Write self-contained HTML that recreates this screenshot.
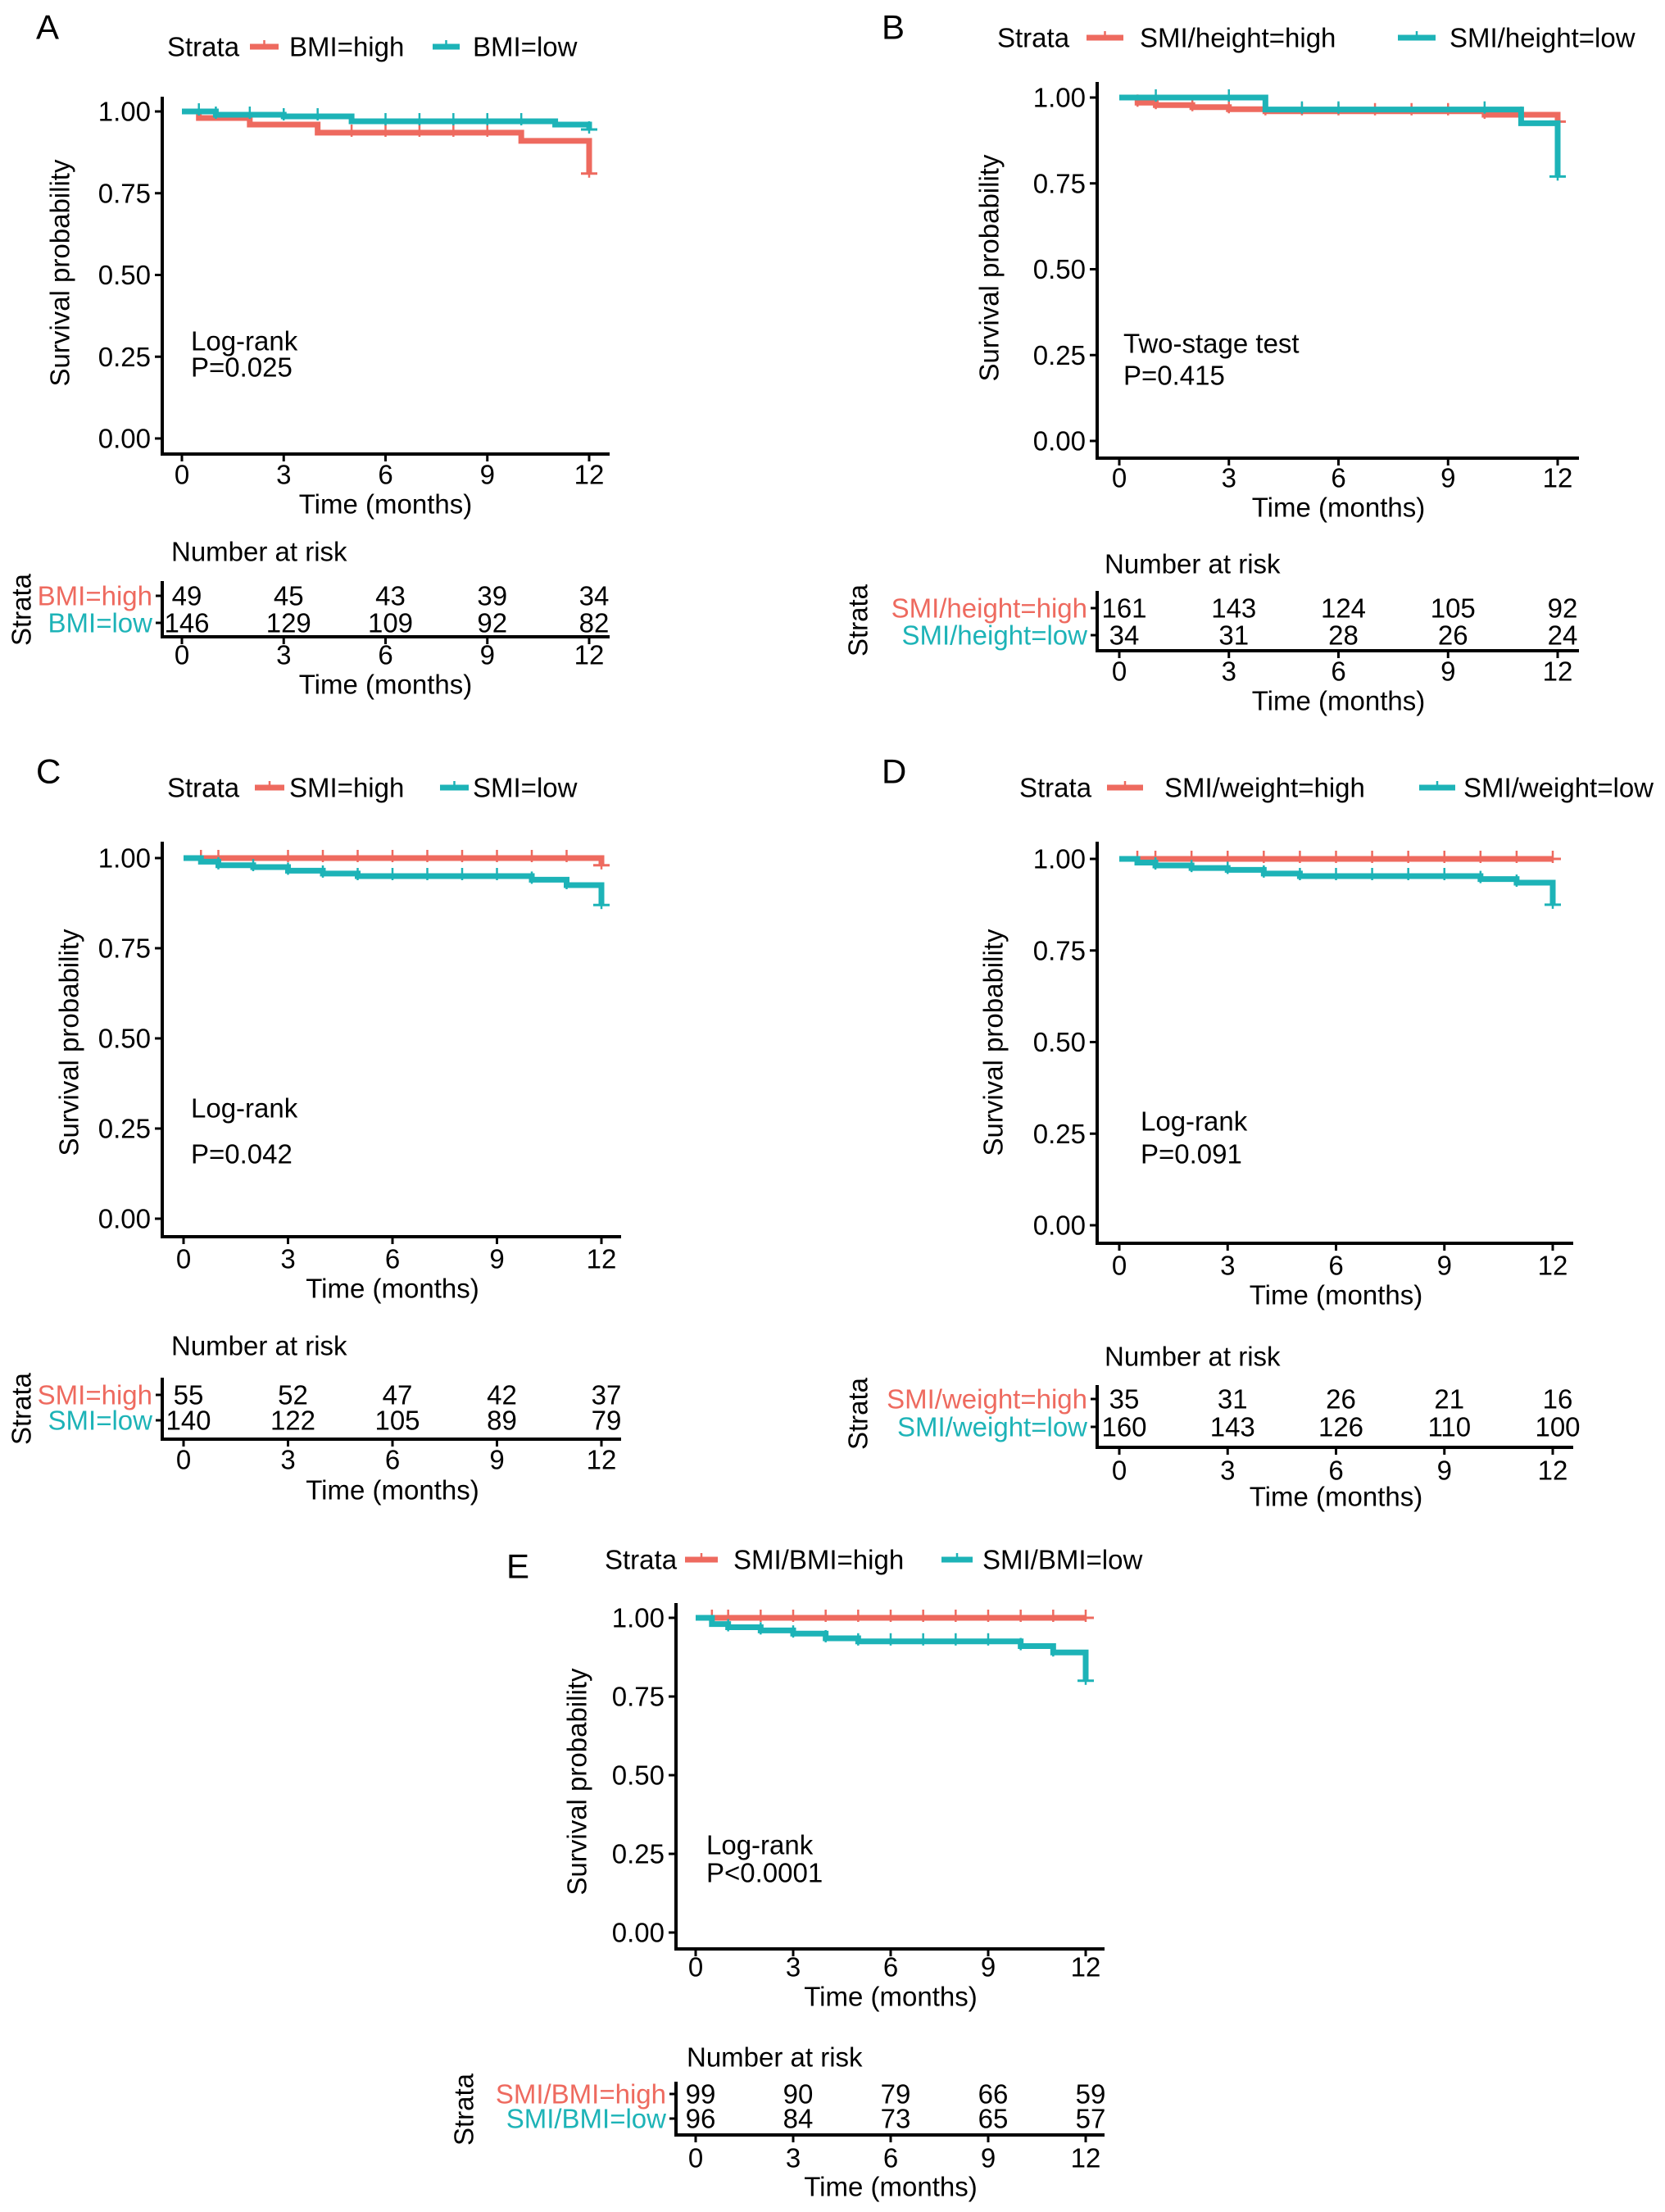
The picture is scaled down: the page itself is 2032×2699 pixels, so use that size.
<!DOCTYPE html>
<html><head><meta charset="utf-8">
<style>
html,body{margin:0;padding:0;background:#fff;}
svg{display:block;font-family:"Liberation Sans",Arial,sans-serif;}
</style></head>
<body>
<svg id="fig" width="2032" height="2699" viewBox="0 0 2032 2699" xmlns="http://www.w3.org/2000/svg"></svg>
<script>
// ---------- DATA ----------
var timeTicks = [0, 3, 6, 9, 12];
var survTicks = [0, 0.25, 0.5, 0.75, 1.0];
var survTickLabels = ["0.00", "0.25", "0.50", "0.75", "1.00"];

// Panel A
var A_highT = [0, 0.5, 2, 4, 10, 12];
var A_highS = [1.0, 0.98, 0.96, 0.935, 0.91, 0.81];
var A_lowT = [0, 1, 3, 5, 11, 12];
var A_lowS = [1.0, 0.99, 0.985, 0.97, 0.96, 0.945];
var A_highCens = [5, 6, 7, 8, 9, 12];
var A_lowCens = [0.5, 1, 2, 3, 4, 6, 7, 8, 9, 10, 12];
var A_riskHigh = [49, 45, 43, 39, 34];
var A_riskLow = [146, 129, 109, 92, 82];

// Panel B
var B_highT = [0, 0.5, 1, 2, 3, 4, 10, 12];
var B_highS = [1.0, 0.985, 0.978, 0.972, 0.966, 0.96, 0.95, 0.93];
var B_lowT = [0, 4, 11, 12];
var B_lowS = [1.0, 0.965, 0.925, 0.77];
var B_highCens = [0.5, 1, 2, 3, 4, 5, 6, 7, 8, 9, 10, 11, 12];
var B_lowCens = [1, 3, 5, 6, 10, 12];
var B_riskHigh = [161, 143, 124, 105, 92];
var B_riskLow = [34, 31, 28, 26, 24];

// Panel C
var C_highT = [0, 12];
var C_highS = [1.0, 0.98];
var C_lowT = [0, 0.5, 1, 2, 3, 4, 5, 10, 11, 12];
var C_lowS = [1.0, 0.99, 0.98, 0.975, 0.965, 0.957, 0.95, 0.94, 0.925, 0.87];
var C_highCens = [0.5, 1, 3, 4, 5, 6, 7, 8, 9, 10, 11, 12];
var C_lowCens = [1, 2, 3, 4, 5, 6, 7, 8, 9, 10, 11, 12];
var C_riskHigh = [55, 52, 47, 42, 37];
var C_riskLow = [140, 122, 105, 89, 79];

// Panel D
var D_highT = [0, 12];
var D_highS = [1.0, 1.0];
var D_lowT = [0, 0.5, 1, 2, 3, 4, 5, 10, 11, 12];
var D_lowS = [1.0, 0.99, 0.982, 0.975, 0.97, 0.96, 0.953, 0.945, 0.935, 0.875];
var D_highCens = [0.5, 1, 2, 3, 4, 5, 6, 7, 8, 9, 10, 11, 12];
var D_lowCens = [1, 2, 3, 4, 5, 6, 7, 8, 9, 10, 11, 12];
var D_riskHigh = [35, 31, 26, 21, 16];
var D_riskLow = [160, 143, 126, 110, 100];

// Panel E
var E_highT = [0, 12];
var E_highS = [1.0, 1.0];
var E_lowT = [0, 0.5, 1, 2, 3, 4, 5, 10, 11, 12];
var E_lowS = [1.0, 0.98, 0.97, 0.96, 0.95, 0.935, 0.925, 0.91, 0.89, 0.8];
var E_highCens = [0.5, 1, 2, 3, 4, 5, 6, 7, 8, 9, 10, 11, 12];
var E_lowCens = [1, 2, 3, 4, 5, 6, 7, 8, 9, 10, 11, 12];
var E_riskHigh = [99, 90, 79, 66, 59];
var E_riskLow = [96, 84, 73, 65, 57];

var RED = "#EE6A5F", TEAL = "#1DB3B7";
var NS = "http://www.w3.org/2000/svg";
var svg = document.getElementById("fig");

function mk(tag, attrs, parent, text) {
  var e = document.createElementNS(NS, tag);
  for (var k in attrs) e.setAttribute(k, attrs[k]);
  if (text !== undefined) e.textContent = text;
  (parent || svg).appendChild(e);
  return e;
}
function txt(parent, x, y, s, opts) {
  opts = opts || {};
  var t = mk("text", {x: x, y: y, "font-size": opts.size || 33, fill: opts.fill || "#000",
    "text-anchor": opts.anchor || "start", "dominant-baseline": "central"}, parent, s);
  if (opts.rot) t.setAttribute("transform", "rotate(-90 " + x + " " + y + ")");
  return t;
}

function panel(L, d) {
  var g = mk("g", {});
  
  
  var sx = function (t) { return L.x0 + (L.x12 - L.x0) * t / 12; };
  var sy = function (s) { return L.y0 + (L.y1 - L.y0) * s; };

  var lt = txt(g, L.letterX, L.letterY, L.letter, {size: 42});
  
  

  // legend
  var lg = mk("g", {}, g);
  
  
  txt(lg, L.legStrata, L.legY, "Strata");
  var keys = [[L.k1a, L.k1b, L.t1x, d.names[0], RED], [L.k2a, L.k2b, L.t2x, d.names[1], TEAL]];
  keys.forEach(function (k, i) {
    var e = mk("g", {}, lg);
    
    
    mk("line", {x1: k[0], x2: k[1], y1: L.legY, y2: L.legY, stroke: k[4], "stroke-width": 7}, e);
    var mx = (k[0] + k[1]) / 2;
    mk("line", {x1: mx, x2: mx, y1: L.legY - 8, y2: L.legY + 3, stroke: k[4], "stroke-width": 2.5}, e);
    txt(e, k[2], L.legY, k[3]);
  });

  // axes
  var ax = mk("g", {}, g);
  
  
  mk("line", {x1: L.ax, x2: L.ax, y1: L.top, y2: L.bot + 2, stroke: "#000", "stroke-width": 4}, ax);
  mk("line", {x1: L.ax - 2, x2: L.right, y1: L.bot, y2: L.bot, stroke: "#000", "stroke-width": 4}, ax);
  survTicks.forEach(function (v, i) {
    var y = sy(v);
    mk("line", {x1: L.ax - 9, x2: L.ax, y1: y, y2: y, stroke: "#000", "stroke-width": 3}, ax);
    txt(ax, L.ax - 14, y, survTickLabels[i], {anchor: "end"});
  });
  timeTicks.forEach(function (t) {
    var x = sx(t);
    mk("line", {x1: x, x2: x, y1: L.bot, y2: L.bot + 9, stroke: "#000", "stroke-width": 3}, ax);
    txt(ax, x, L.xtickY, String(t), {anchor: "middle"});
  });
  var xt = txt(ax, (L.x0 + L.x12) / 2, L.xtitleY, "Time (months)", {anchor: "middle"});
  
  
  var yt = txt(ax, L.ytitleX, L.ytitleY, "Survival probability", {anchor: "middle", rot: true});
  
  

  // curves
  var series = [[d.highT, d.highS, d.highCens, RED, 'curve-high'], [d.lowT, d.lowS, d.lowCens, TEAL, 'curve-low']];
  series.forEach(function (s) {
    var T = s[0], S = s[1];
    var p = "M" + sx(T[0]) + "," + sy(S[0]);
    for (var i = 1; i < T.length; i++) {
      p += " H" + sx(T[i]) + " V" + sy(S[i]);
    }
    var path = mk("path", {d: p, fill: "none", stroke: s[3], "stroke-width": 7, "stroke-linejoin": "miter"}, g);
    
    
    // censor marks
    s[2].forEach(function (c) {
      var v = S[0];
      for (var i = 0; i < T.length; i++) if (T[i] <= c) v = S[i];
      var x = sx(c), y = sy(v);
      var m = mk("line", {x1: x, x2: x, y1: y - 10, y2: y + 5, stroke: s[3], "stroke-width": 2.5}, g);
      
      
      if (c === 12) mk("line", {x1: x - 10, x2: x + 10, y1: y, y2: y, stroke: s[3], "stroke-width": 3}, g);
    });
  });

  var st = mk("g", {}, g);
  
  
  txt(st, L.annX, L.ann1Y, d.test);
  txt(st, L.annX, L.ann2Y, d.p);

  // risk table
  var rt = mk("g", {}, g);
  
  
  txt(rt, L.nrX, L.nrY, "Number at risk");
  mk("line", {x1: L.ax, x2: L.ax, y1: L.rTop, y2: L.rBot + 2, stroke: "#000", "stroke-width": 4}, rt);
  mk("line", {x1: L.ax - 2, x2: L.right, y1: L.rBot, y2: L.rBot, stroke: "#000", "stroke-width": 4}, rt);
  [[L.rY1, d.names[0], RED, d.riskHigh], [L.rY2, d.names[1], TEAL, d.riskLow]].forEach(function (r) {
    mk("line", {x1: L.ax - 8, x2: L.ax, y1: r[0], y2: r[0], stroke: "#000", "stroke-width": 3}, rt);
    txt(rt, L.ax - 12, r[0], r[1], {anchor: "end", fill: r[2]});
    r[3].forEach(function (v, i) {
      var n = txt(rt, sx(timeTicks[i]) + 6, r[0], String(v), {anchor: "middle"});
      
      
    });
  });
  timeTicks.forEach(function (t) {
    var x = sx(t);
    mk("line", {x1: x, x2: x, y1: L.rBot, y2: L.rBot + 9, stroke: "#000", "stroke-width": 3}, rt);
    txt(rt, x, L.rTickY, String(t), {anchor: "middle"});
  });
  txt(rt, (L.x0 + L.x12) / 2, L.rTitleY, "Time (months)", {anchor: "middle"});
  txt(rt, L.strataX, L.strataY, "Strata", {anchor: "middle", rot: true});
}

panel({letter: "A", letterX: 44, letterY: 33, legY: 57, legStrata: 204, k1a: 305, k1b: 340, t1x: 353, k2a: 528, k2b: 561, t2x: 577,
  ax: 198, top: 118, bot: 554, right: 744, y0: 535, y1: 136, x0: 222, x12: 719, xtickY: 579, xtitleY: 615,
  ytitleX: 73, ytitleY: 333, annX: 233, ann1Y: 416, ann2Y: 448, nrX: 209, nrY: 673,
  rTop: 709, rBot: 777, rY1: 727, rY2: 760, rTickY: 799, rTitleY: 835, strataX: 26, strataY: 744},
  {names: ["BMI=high", "BMI=low"], highT: A_highT, highS: A_highS, lowT: A_lowT, lowS: A_lowS, highCens: A_highCens, lowCens: A_lowCens,
   riskHigh: A_riskHigh, riskLow: A_riskLow, test: "Log-rank", p: "P=0.025"});

panel({letter: "B", letterX: 1076, letterY: 33, legY: 46, legStrata: 1217, k1a: 1326, k1b: 1371, t1x: 1391, k2a: 1706, k2b: 1752, t2x: 1769,
  ax: 1339, top: 100, bot: 559, right: 1927, y0: 538, y1: 119, x0: 1366, x12: 1901, xtickY: 583, xtitleY: 619,
  ytitleX: 1207, ytitleY: 327, annX: 1371, ann1Y: 419, ann2Y: 458, nrX: 1348, nrY: 688,
  rTop: 721, rBot: 794, rY1: 742, rY2: 775, rTickY: 819, rTitleY: 855, strataX: 1047, strataY: 757},
  {names: ["SMI/height=high", "SMI/height=low"], highT: B_highT, highS: B_highS, lowT: B_lowT, lowS: B_lowS, highCens: B_highCens, lowCens: B_lowCens,
   riskHigh: B_riskHigh, riskLow: B_riskLow, test: "Two-stage test", p: "P=0.415"});

panel({letter: "C", letterX: 44, letterY: 941, legY: 961, legStrata: 204, k1a: 311, k1b: 347, t1x: 353, k2a: 537, k2b: 572, t2x: 577,
  ax: 198, top: 1027, bot: 1509, right: 758, y0: 1487, y1: 1047, x0: 224, x12: 734, xtickY: 1536, xtitleY: 1572,
  ytitleX: 84, ytitleY: 1272, annX: 233, ann1Y: 1352, ann2Y: 1408, nrX: 209, nrY: 1642,
  rTop: 1681, rBot: 1756, rY1: 1702, rY2: 1733, rTickY: 1781, rTitleY: 1818, strataX: 26, strataY: 1719},
  {names: ["SMI=high", "SMI=low"], highT: C_highT, highS: C_highS, lowT: C_lowT, lowS: C_lowS, highCens: C_highCens, lowCens: C_lowCens,
   riskHigh: C_riskHigh, riskLow: C_riskLow, test: "Log-rank", p: "P=0.042"});

panel({letter: "D", letterX: 1076, letterY: 941, legY: 961, legStrata: 1244, k1a: 1351, k1b: 1395, t1x: 1421, k2a: 1732, k2b: 1776, t2x: 1786,
  ax: 1339, top: 1027, bot: 1517, right: 1920, y0: 1495, y1: 1048, x0: 1366, x12: 1895, xtickY: 1544, xtitleY: 1580,
  ytitleX: 1212, ytitleY: 1272, annX: 1392, ann1Y: 1368, ann2Y: 1408, nrX: 1348, nrY: 1655,
  rTop: 1690, rBot: 1766, rY1: 1707, rY2: 1741, rTickY: 1794, rTitleY: 1826, strataX: 1047, strataY: 1725},
  {names: ["SMI/weight=high", "SMI/weight=low"], highT: D_highT, highS: D_highS, lowT: D_lowT, lowS: D_lowS, highCens: D_highCens, lowCens: D_lowCens,
   riskHigh: D_riskHigh, riskLow: D_riskLow, test: "Log-rank", p: "P=0.091"});

panel({letter: "E", letterX: 618, letterY: 1911, legY: 1903, legStrata: 738, k1a: 836, k1b: 876, t1x: 895, k2a: 1149, k2b: 1187, t2x: 1199,
  ax: 825, top: 1956, bot: 2378, right: 1348, y0: 2358, y1: 1974, x0: 849, x12: 1325, xtickY: 2400, xtitleY: 2436,
  ytitleX: 704, ytitleY: 2174, annX: 862, ann1Y: 2251, ann2Y: 2285, nrX: 838, nrY: 2510,
  rTop: 2540, rBot: 2605, rY1: 2555, rY2: 2585, rTickY: 2633, rTitleY: 2668, strataX: 566, strataY: 2574},
  {names: ["SMI/BMI=high", "SMI/BMI=low"], highT: E_highT, highS: E_highS, lowT: E_lowT, lowS: E_lowS, highCens: E_highCens, lowCens: E_lowCens,
   riskHigh: E_riskHigh, riskLow: E_riskLow, test: "Log-rank", p: "P<0.0001"});
</script>
</body></html>
